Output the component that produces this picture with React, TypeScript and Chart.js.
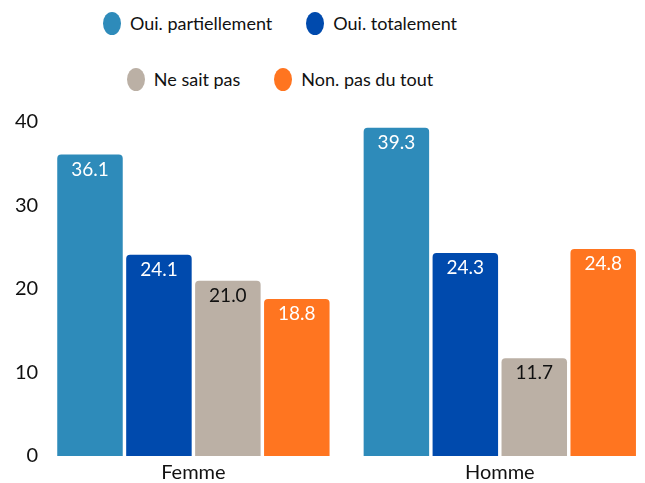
import React, { useEffect, useRef } from "react";
import { Chart, registerables } from "chart.js";

Chart.register(...registerables);

const categories = ["Femme", "Homme"];
const seriesNames = ["Oui. partiellement", "Oui. totalement", "Ne sait pas", "Non. pas du tout"];
const ouiPartiellement = [36.1, 39.3];
const ouiTotalement = [24.1, 24.3];
const neSaitPas = [21.0, 11.7];
const nonPasDuTout = [18.8, 24.8];
const seriesColors = ["#2E8BBA", "#004AAD", "#BBB0A5", "#FF7520"];
const valueLabelColors = ["#ffffff", "#ffffff", "#111111", "#ffffff"];
const yTicks = [0, 10, 20, 30, 40];
const legendRows = [[0, 1], [2, 3]];

const FONT = "Lato, 'Open Sans', sans-serif";

const valueLabels = {
  id: "valueLabels",
  afterDatasetsDraw(chart: any) {
    const ctx = chart.ctx;
    ctx.save();
    ctx.font = `19px ${FONT}`;
    ctx.textAlign = "center";
    ctx.textBaseline = "middle";
    chart.data.datasets.forEach((ds: any, i: number) => {
      const meta = chart.getDatasetMeta(i);
      meta.data.forEach((bar: any, j: number) => {
        ctx.fillStyle = valueLabelColors[i];
        ctx.fillText(Number(ds.data[j]).toFixed(1), bar.x, bar.y + 15);
      });
    });
    ctx.restore();
  },
};

export default function App() {
  const canvasRef = useRef<HTMLCanvasElement | null>(null);

  useEffect(() => {
    if (!canvasRef.current) return;
    const seriesValues = [ouiPartiellement, ouiTotalement, neSaitPas, nonPasDuTout];
    const chart = new Chart(canvasRef.current, {
      type: "bar",
      data: {
        labels: categories,
        datasets: seriesNames.map((name, i) => ({
          label: name,
          data: seriesValues[i],
          backgroundColor: seriesColors[i],
          borderRadius: 4,
          borderSkipped: "start",
          categoryPercentage: 0.9,
          barPercentage: 0.95,
        })),
      },
      options: {
        responsive: true,
        maintainAspectRatio: false,
        animation: false,
        layout: { padding: { top: 22, left: 13, right: 7, bottom: 0 } },
        plugins: {
          legend: { display: false },
          tooltip: { enabled: false },
        },
        scales: {
          x: {
            grid: { display: false, drawTicks: false },
            border: { display: false },
            ticks: { color: "#111", padding: 5, font: { family: FONT, size: 20 } },
          },
          y: {
            min: 0,
            max: 40,
            grid: { display: false, drawTicks: false },
            border: { display: false },
            afterBuildTicks: (axis: any) => {
              axis.ticks = yTicks.map((v) => ({ value: v }));
            },
            ticks: { color: "#111", padding: 2, font: { family: FONT, size: 20 } },
          },
        },
      },
      plugins: [valueLabels],
    });
    if ((document as any).fonts && (document as any).fonts.load) {
      (document as any).fonts.load(`20px Lato`).then(() => chart.update()).catch(() => {});
    }
    return () => chart.destroy();
  }, []);

  return (
    <div
      style={{
        position: "fixed",
        left: 0,
        top: 0,
        width: 645,
        height: 483,
        overflow: "hidden",
        background: "#ffffff",
        fontFamily: FONT,
      }}
    >
      <div style={{ position: "absolute", left: 0, top: 0, width: 560 }}>
        {legendRows.map((row, r) => (
          <div
            key={r}
            style={{
              position: "absolute",
              left: 0,
              width: 560,
              top: r === 0 ? 12 : 68,
              height: 23,
              display: "flex",
              justifyContent: "center",
              alignItems: "center",
              gap: 34,
            }}
          >
            {row.map((i) => (
              <div key={i} style={{ display: "flex", alignItems: "center", gap: 9 }}>
                <span
                  style={{
                    display: "inline-block",
                    width: 18,
                    height: 23,
                    borderRadius: "50%",
                    background: seriesColors[i],
                  }}
                />
                <span style={{ fontSize: 18, color: "#111", whiteSpace: "nowrap", lineHeight: "23px" }}>
                  {seriesNames[i]}
                </span>
              </div>
            ))}
          </div>
        ))}
      </div>
      <div style={{ position: "absolute", left: 0, top: 100, width: 660, height: 390 }}>
        <canvas ref={canvasRef} />
      </div>
    </div>
  );
}
